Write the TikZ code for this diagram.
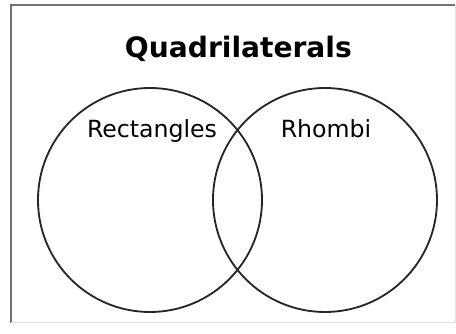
\documentclass[tikz,border=0pt]{standalone}
\usepackage{fontspec}
\setmainfont{DejaVu Sans}
\usepackage{tikz}
\usetikzlibrary{positioning}

\begin{document}
\begin{tikzpicture}[
  ttl/.style={font=\fontsize{20}{24}\selectfont\bfseries, anchor=base, inner sep=0pt},
  lbl/.style={font=\fontsize{16.8}{20}\selectfont, anchor=base, inner sep=0pt},
  vc/.style={circle, draw=black!85, line width=1.3pt, minimum size=5.6cm, inner sep=0pt},
]
\useasboundingbox (0,0) rectangle (11.4,8.35);
% frame
\draw[black!55, line width=1.4pt] (0.27,0.28) -- (0.27,8.22) -- (11.375,8.22);
\draw[black!12, line width=0.6pt] (11.375,8.22) -- (11.375,0.28) -- (0.27,0.28);
% sets
\node[vc] (rect) at (3.75,3.35) {};
\node[vc] (rhom) at (8.125,3.35) {};
\node[ttl] (quad)  at (5.96,6.9) {Quadrilaterals};
\node[lbl] (rectl) at (3.8,4.9) {Rectangles};
\node[lbl] (rhoml) at (8.15,4.9) {Rhombi};
\end{tikzpicture}
\end{document}
